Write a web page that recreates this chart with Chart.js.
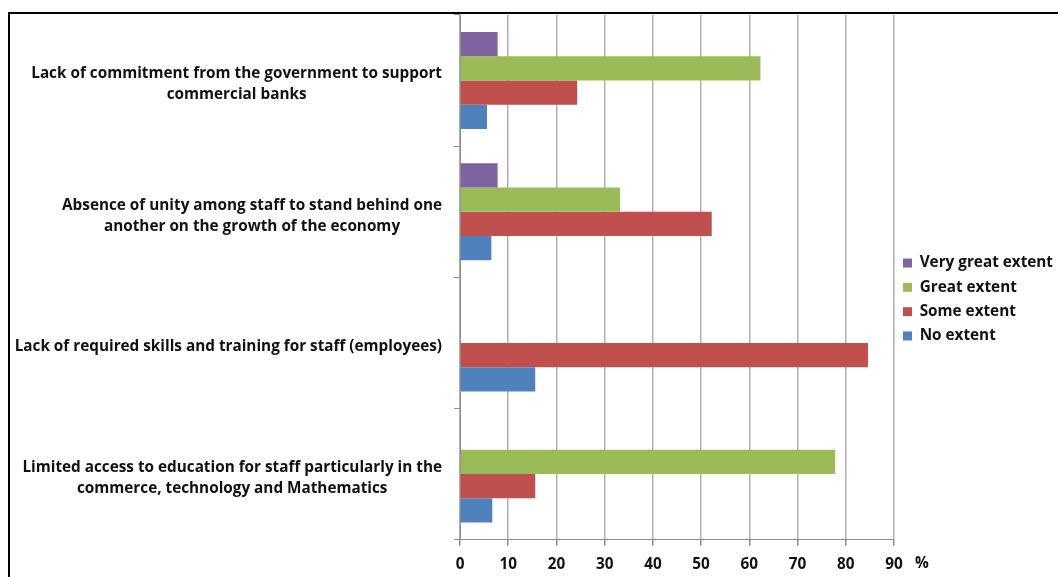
<!DOCTYPE html>
<html>
<head>
<meta charset="utf-8">
<script src="https://cdn.jsdelivr.net/npm/chart.js@4/dist/chart.umd.min.js"></script>
<style>
  html, body { margin: 0; padding: 0; background: #fff; overflow: hidden; }
  body { width: 1058px; height: 577px; position: relative; }
  #frame { position: absolute; left: 8px; top: 12px; width: 1200px; height: 700px;
           border-top: 2px solid #000; border-left: 2px solid #000; }
  #wrap { position: absolute; left: 0; top: 0; width: 1063px; height: 584px; }
</style>
</head>
<body>
<div id="frame"></div>
<div id="wrap"><canvas id="chart"></canvas></div>
<script>
// categories, top to bottom
const categories = [
  ['Lack of commitment from the government to support', 'commercial banks'],
  ['Absence of unity among staff to stand behind one', 'another on the growth of the economy'],
  ['Lack of required skills and training for staff (employees)'],
  ['Limited access to education for staff particularly in the', 'commerce, technology and Mathematics']
];

const veryGreatExtent = [7.8, 7.8, 0, 0];
const greatExtent = [62.3, 33.2, 0, 77.8];
const someExtent = [24.3, 52.2, 84.6, 15.6];
const noExtent = [5.6, 6.5, 15.6, 6.7];

const xTicks = [0, 10, 20, 30, 40, 50, 60, 70, 80, 90];

const FONT = '"Open Sans", sans-serif';
const SIZE = 15.3;

// y labels: block right-aligned, lines centered within the block
const yLabelPlugin = {
  id: 'yLabels',
  afterDraw(chart) {
    const ctx = chart.ctx;
    const y = chart.scales.y;
    ctx.save();
    ctx.font = 'bold ' + SIZE + 'px ' + FONT;
    ctx.fillStyle = '#111';
    ctx.textAlign = 'center';
    ctx.textBaseline = 'middle';
    categories.forEach((lines, i) => {
      const w = Math.max(...lines.map(l => ctx.measureText(l).width));
      const cx = 442 - w / 2;
      const cy = y.getPixelForTick(i) + 4;
      const lh = 21;
      lines.forEach((l, j) => {
        ctx.fillText(l, cx, cy + (j - (lines.length - 1) / 2) * lh);
      });
    });
    // percent sign after the last x tick
    const area = chart.chartArea;
    ctx.textAlign = 'left';
    ctx.fillText('%', area.right + 21, area.bottom + 24);
    ctx.restore();
  }
};

new Chart(document.getElementById('chart'), {
  type: 'bar',
  data: {
    labels: categories.map(c => c.join(' ')),
    datasets: [
      { label: 'Very great extent', data: veryGreatExtent, backgroundColor: '#8064A2' },
      { label: 'Great extent', data: greatExtent, backgroundColor: '#9BBB59' },
      { label: 'Some extent', data: someExtent, backgroundColor: '#C0504D' },
      { label: 'No extent', data: noExtent, backgroundColor: '#4F81BD' }
    ]
  },
  options: {
    indexAxis: 'y',
    responsive: true,
    maintainAspectRatio: false,
    animation: false,
    datasets: {
      bar: { categoryPercentage: 0.74, barPercentage: 1.0 }
    },
    layout: { padding: { top: 15, bottom: 0, left: 0, right: 0 } },
    plugins: {
      legend: {
        position: 'right',
        labels: {
          boxWidth: 9,
          boxHeight: 9,
          padding: 9,
          color: '#111',
          font: { family: FONT, size: SIZE, weight: 'bold' }
        }
      },
      tooltip: { enabled: false }
    },
    scales: {
      x: {
        min: 0,
        max: 90,
        afterBuildTicks(scale) { scale.ticks = xTicks.map(v => ({ value: v })); },
        grid: { color: '#b0b0b0', lineWidth: 1.5, tickLength: 6, tickColor: '#8c8c8c' },
        border: { color: '#8c8c8c', width: 1 },
        ticks: {
          color: '#111',
          padding: 10,
          maxRotation: 0,
          font: { family: FONT, size: SIZE, weight: 'bold' }
        }
      },
      y: {
        afterFit(scale) { scale.width = 460; },
        grid: { drawOnChartArea: false, offset: true, tickLength: 6, color: '#8c8c8c' },
        border: { color: '#8c8c8c', width: 1 },
        ticks: { display: false }
      }
    }
  },
  plugins: [yLabelPlugin]
});
</script>
</body>
</html>
